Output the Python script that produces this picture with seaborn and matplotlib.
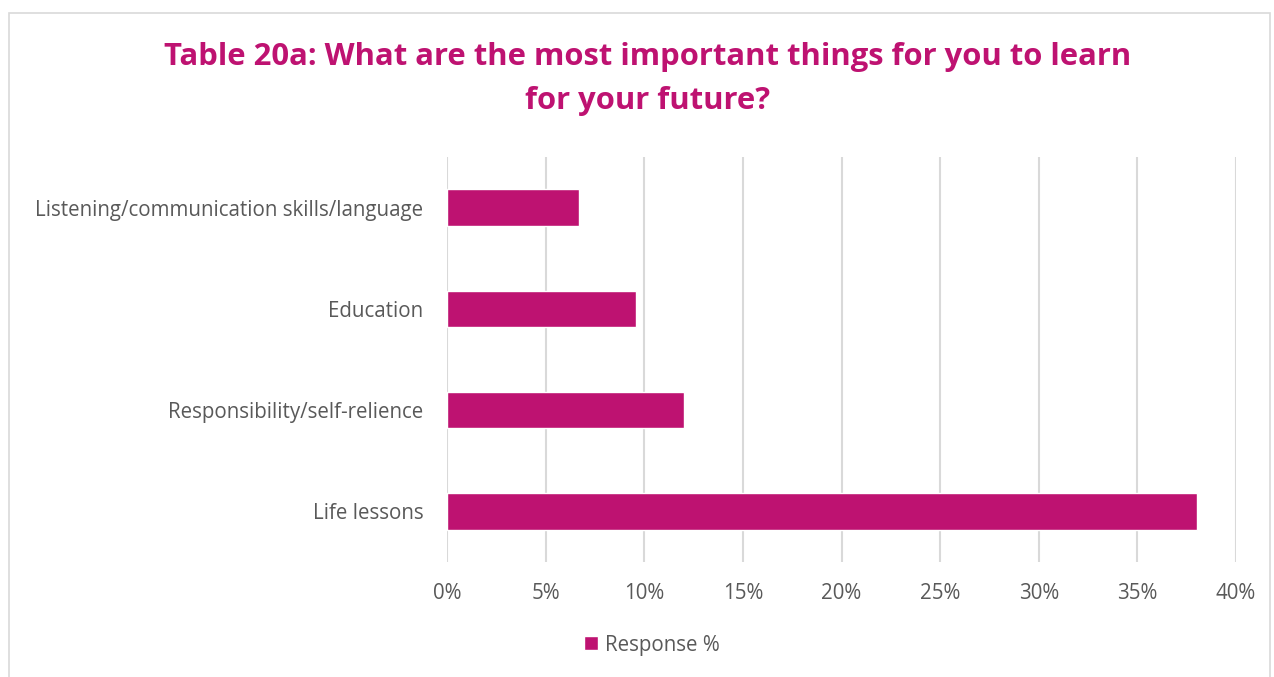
import matplotlib
matplotlib.use("Agg")
import matplotlib.pyplot as plt
from matplotlib.patches import Rectangle, Patch
from matplotlib.ticker import FuncFormatter
import seaborn as sns
import pandas as pd

categories = [
    "Listening/communication skills/language",
    "Education",
    "Responsibility/self-relience",
    "Life lessons",
]
response_pct = [6.7, 9.6, 12.0, 38.0]
x_ticks = [0, 5, 10, 15, 20, 25, 30, 35, 40]

title = "Table 20a: What are the most important things for you to learn\nfor your future?"
series_name = "Response %"

magenta = "#BE1271"
text_grey = "#595959"
grid_grey = "#D9D9D9"

df = pd.DataFrame({"category": categories, "value": response_pct})

sns.set_theme(style="white")
plt.rcParams["font.family"] = ["Open Sans", "DejaVu Sans"]

fig = plt.figure(figsize=(12.74, 6.77), dpi=100)
fig.patch.set_facecolor("white")

# chart frame
fig.patches.append(Rectangle((9 / 1274, -0.01), (1270 - 9) / 1274, 1 - 13 / 677 + 0.01,
                             transform=fig.transFigure, fill=False,
                             edgecolor="#D9D9D9", linewidth=1.2))

ax = fig.add_axes([447 / 1274, 1 - 562 / 677, (1236 - 447) / 1274, (562 - 157) / 677])
sns.barplot(data=df, x="value", y="category", orient="h", color=magenta,
            width=0.36, saturation=1, ax=ax)

ax.set_xlim(0, 40)
ax.set_xticks(x_ticks)
ax.xaxis.set_major_formatter(FuncFormatter(lambda v, _: f"{v:.0f}%"))
ax.grid(axis="x", color=grid_grey, linewidth=1.5)
ax.set_axisbelow(True)
for s in ax.spines.values():
    s.set_visible(False)
ax.set_xlabel("")
ax.set_ylabel("")
ax.tick_params(axis="both", length=0, labelsize=14.8, labelcolor=text_grey)
ax.tick_params(axis="x", pad=15)
ax.tick_params(axis="y", pad=17)

fig.text(648 / 1274, 1 - 79 / 677, title, ha="center", va="center", fontsize=22.3,
         fontweight="bold", color=magenta, linespacing=1.62)

fig.legend(handles=[Patch(facecolor=magenta, label=series_name)],
           loc="center", bbox_to_anchor=(652 / 1274, 1 - 645 / 677), frameon=False,
           fontsize=14.8, labelcolor=text_grey, handlelength=0.65, handleheight=0.65,
           handletextpad=0.35)

fig.savefig("out.png", dpi=100, facecolor="white")
